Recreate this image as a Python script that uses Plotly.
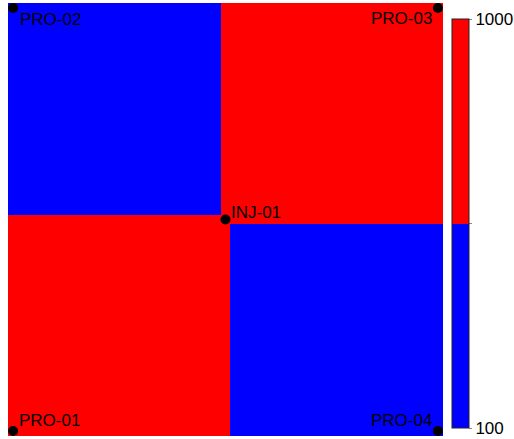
import plotly.graph_objects as go

# Permeability field: 3x3 blocks defined by cell edges (bottom row first)
x_edges = [-12, 490, 510, 1012]
y_edges = [-12, 490, 510, 1012]
perm = [
    [1000, 1000, 100],
    [1000, 1000, 1000],
    [100, 1000, 1000],
]

# Wells
well_names = ["PRO-01", "PRO-02", "PRO-03", "PRO-04", "INJ-01"]
well_x = [0, 0, 1000, 1000, 500]
well_y = [0, 1000, 1000, 0, 500]

cbar_tickvals = [100, 550, 1000]
cbar_ticktext = ["100", "", "1000"]

# label placement (style only)
lab_anchor = {"PRO-01": ("left", 4, 10), "PRO-02": ("left", 5, -11),
              "PRO-03": ("right", -4, -10), "PRO-04": ("right", -4, 10),
              "INJ-01": ("left", 3, 7)}

fig = go.Figure()
fig.add_trace(go.Heatmap(
    x=x_edges, y=y_edges, z=perm,
    zmin=100, zmax=1000,
    colorscale=[[0, "#0000ff"], [0.5, "#0000ff"], [0.5, "#ff0000"], [1, "#ff0000"]],
    hoverinfo="skip",
    colorbar=dict(
        x=(452 - 7.5) / 435.5, xanchor="left", xpad=0,
        y=(436 - 223.5) / 433, yanchor="middle", ypad=0,
        lenmode="pixels", len=409,
        thickness=17, outlinewidth=1, outlinecolor="#222222",
        tickvals=cbar_tickvals, ticktext=cbar_ticktext,
        ticks="outside", ticklen=3, tickcolor="#888888",
        tickfont=dict(family="Liberation Sans, Arial", size=17, color="black"),
    ),
))
fig.add_trace(go.Scatter(
    x=well_x, y=well_y, mode="markers",
    marker=dict(color="black", size=10),
    cliponaxis=False, showlegend=False, hoverinfo="skip",
))
for name, wx, wy in zip(well_names, well_x, well_y):
    anc, dx, dy = lab_anchor[name]
    fig.add_annotation(x=wx, y=wy, text=name, showarrow=False,
                       xanchor=anc, yanchor="middle", xshift=dx, yshift=dy,
                       font=dict(family="Liberation Sans, Arial", size=17, color="black"))
fig.update_xaxes(range=[-12, 1012], visible=False, showgrid=False, zeroline=False)
fig.update_yaxes(range=[-12, 1012], visible=False, showgrid=False, zeroline=False)
fig.update_layout(
    width=514, height=439,
    margin=dict(l=7.5, r=71, t=3, b=3, autoexpand=False),
    paper_bgcolor="white", plot_bgcolor="white",
    showlegend=False,
)
fig.write_html("out.html", config={"displayModeBar": False},
               post_script="document.body.style.margin='0';document.body.style.overflow='hidden';")
